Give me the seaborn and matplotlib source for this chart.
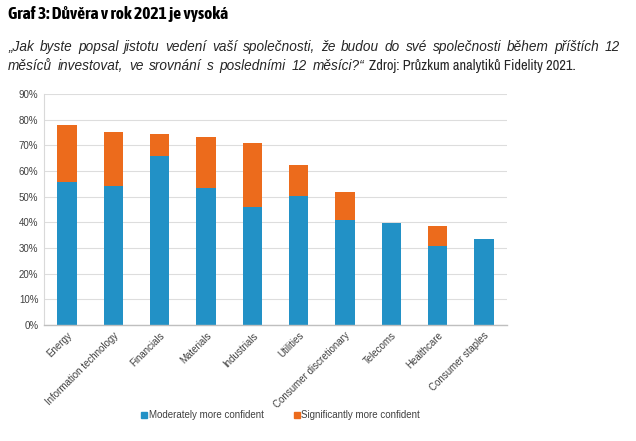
import matplotlib
matplotlib.use("Agg")
import matplotlib.pyplot as plt
import seaborn as sns
import pandas as pd
from matplotlib.lines import Line2D

categories = ["Energy", "Information technology", "Financials", "Materials", "Industrials",
              "Utilities", "Consumer discretionary", "Telecoms", "Healthcare", "Consumer staples"]
moderately = [55.6, 54.3, 65.8, 53.5, 46.0, 50.1, 40.8, 39.9, 30.7, 33.4]
significantly = [22.3, 20.8, 8.6, 19.9, 24.9, 12.3, 11.1, 0.0, 7.9, 0.0]
yticks = [0, 10, 20, 30, 40, 50, 60, 70, 80, 90]
series_names = ["Moderately more confident", "Significantly more confident"]

title = "Graf 3: Důvěra v rok 2021 je vysoká"
sub1 = "„Jak byste popsal jistotu vedení vaší společnosti, že budou do své společnosti během příštích 12"
sub2_it = "měsíců investovat, ve srovnání s posledními 12 měsíci?“"
sub2_rm = "Zdroj: Průzkum analytiků Fidelity 2021."

BLUE = "#2291C6"
ORANGE = "#EC6B1C"

sns.set_theme(style="white")
plt.rcParams["font.family"] = ["Liberation Sans", "DejaVu Sans"]
NARROW = ["Archivo Narrow", "Liberation Sans", "DejaVu Sans"]
TITLEF = ["Asap Condensed", "Liberation Sans", "DejaVu Sans"]
ITAL = ["Liberation Sans", "DejaVu Sans"]

df = pd.DataFrame({"cat": categories,
                   "mod": moderately,
                   "tot": [m + s for m, s in zip(moderately, significantly)]})

W, H = 636, 441
fig = plt.figure(figsize=(W / 100, H / 100), dpi=100)
ax = fig.add_axes([44 / W, 1 - 325 / H, (507 - 44) / W, (325 - 94) / H])

sns.barplot(data=df, x="cat", y="tot", color=ORANGE, saturation=1, width=0.42, ax=ax,
            linewidth=0)
sns.barplot(data=df, x="cat", y="mod", color=BLUE, saturation=1, width=0.42, ax=ax,
            linewidth=0)

ax.set_ylim(0, 90)
ax.set_xlim(-0.5, len(categories) - 0.5)
ax.set_yticks(yticks)
ax.set_yticklabels([f"{v}%" for v in yticks], fontsize=7, color="#404040")
ax.set_xticks(range(len(categories)))
ax.set_xticklabels(categories, rotation=45, ha="right", rotation_mode="anchor",
                   fontsize=7, color="#404040")
ax.tick_params(axis="x", length=0, pad=4)
ax.tick_params(axis="y", length=0, pad=4)
ax.set_xlabel("")
ax.set_ylabel("")
ax.yaxis.grid(True, color="#DDDDDD", linewidth=0.8)
ax.set_axisbelow(True)
for s in ["top", "right"]:
    ax.spines[s].set_visible(False)
ax.spines["left"].set_color("#D9D9D9")
ax.spines["bottom"].set_color("#BFBFBF")
ax.spines["left"].set_linewidth(0.8)
ax.spines["bottom"].set_linewidth(1.0)

handles = [Line2D([0], [0], marker="s", linestyle="", markersize=4.5,
                  markerfacecolor=c, markeredgecolor=c) for c in (BLUE, ORANGE)]
fig.legend(handles, series_names, loc="center", bbox_to_anchor=(280 / W, 1 - 415 / H),
           ncol=2, frameon=False, fontsize=7, handletextpad=0.1, columnspacing=3.0,
           handlelength=0.8, labelcolor="#404040")

# Title
fig.text(8 / W, 1 - 14 / H, title, fontsize=12.6, fontweight="bold", family=TITLEF,
         va="center", ha="left", color="black")

fig.canvas.draw()
r = fig.canvas.get_renderer()
SUBFS = 9.8


def place_words(words, y, xstart, xend, **kw):
    ts, ws = [], []
    for w in words:
        t = fig.text(0, y, w, va="center", ha="left", **kw)
        ts.append(t)
        ws.append(t.get_window_extent(renderer=r).width)
    gap = (xend - xstart - sum(ws)) / (len(words) - 1)
    x = xstart
    for t, wd in zip(ts, ws):
        t.set_x(x / W)
        x += wd + gap
    return x - gap


# Subtitle line 1 justified, line 2 italic part slightly spread like the reference
place_words(sub1.split(" "), 1 - 47 / H, 8, 620, fontsize=SUBFS, style="italic", family=ITAL)
xe = place_words(sub2_it.split(" "), 1 - 66 / H, 8, 364, fontsize=SUBFS, style="italic", family=ITAL)
fig.text((xe + 5) / W, 1 - 66 / H, sub2_rm, fontsize=10.4, family=NARROW,
         va="center", ha="left")

fig.savefig("out.png", dpi=100, facecolor="white")
